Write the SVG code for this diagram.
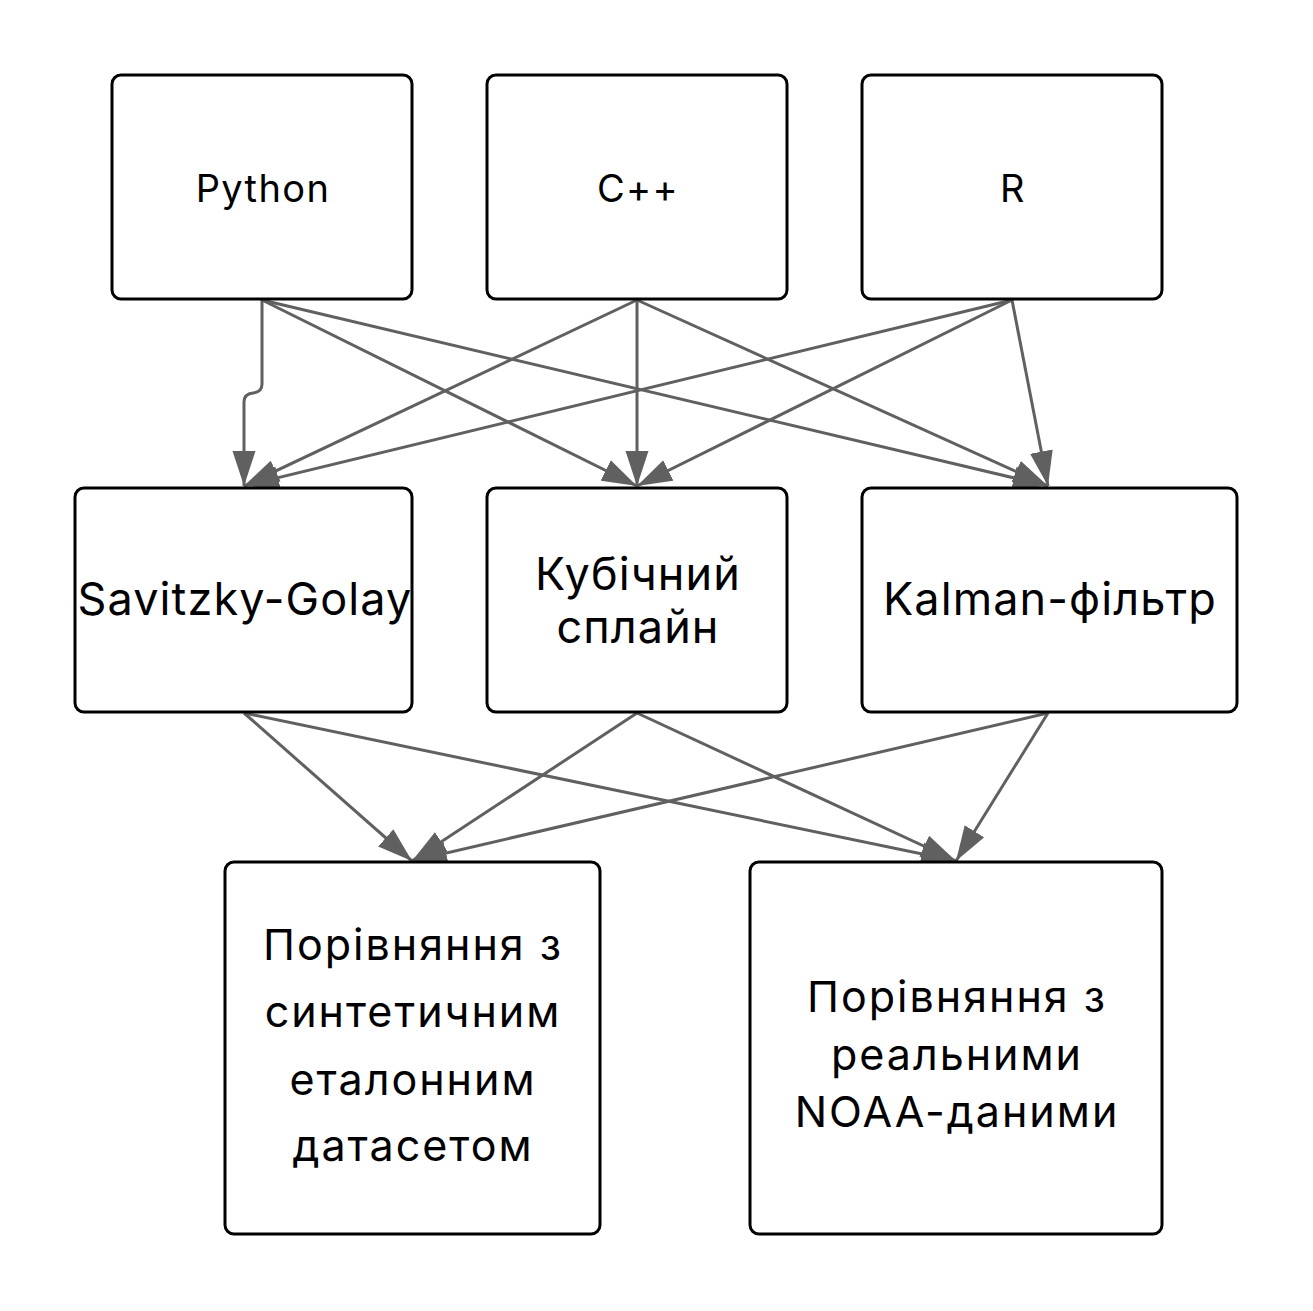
<svg xmlns="http://www.w3.org/2000/svg" width="1313" height="1311" viewBox="0 0 1313 1311">
<style>
.box{fill:#fff;stroke:#000;stroke-width:3}
.t{font-family:Inter,"Noto Sans",sans-serif;fill:#000;text-anchor:middle}
.s{font-size:38px;letter-spacing:1.4px}
.m{font-size:45px;letter-spacing:1.1px}
.l{font-size:43px;letter-spacing:2px}
.c{fill:none;stroke:#606060;stroke-width:3}
</style>
<defs>
<marker id="a" markerUnits="userSpaceOnUse" markerWidth="35" markerHeight="24" refX="35" refY="12" orient="auto" viewBox="0 0 35 24">
<path d="M0,0.5 L35,12 L0,23.5 z" fill="#606060"/>
</marker>
</defs>
<rect width="1313" height="1311" fill="#fff"/>
<g id="connectors">
<path class="c" marker-end="url(#a)" d="M262,300 V384 Q262,392 253,393 Q244,394 244,402 V486"/>
<path class="c" marker-end="url(#a)" d="M262,300 L637,486"/>
<path class="c" marker-end="url(#a)" d="M262,300 L1048,486"/>
<path class="c" marker-end="url(#a)" d="M637,300 L244,486"/>
<path class="c" marker-end="url(#a)" d="M637,300 L637,486"/>
<path class="c" marker-end="url(#a)" d="M637,300 L1048,486"/>
<path class="c" marker-end="url(#a)" d="M1012,300 L244,486"/>
<path class="c" marker-end="url(#a)" d="M1012,300 L637,486"/>
<path class="c" marker-end="url(#a)" d="M1012,300 L1048,486"/>
<path class="c" marker-end="url(#a)" d="M244,713 L412,861"/>
<path class="c" marker-end="url(#a)" d="M244,713 L956,861"/>
<path class="c" marker-end="url(#a)" d="M637,713 L412,861"/>
<path class="c" marker-end="url(#a)" d="M637,713 L956,861"/>
<path class="c" marker-end="url(#a)" d="M1048,713 L412,861"/>
<path class="c" marker-end="url(#a)" d="M1048,713 L956,861"/>
</g>
<g id="python"><rect class="box" x="112" y="75" width="300" height="224" rx="9"/><text class="t s" x="263" y="202">Python</text></g>
<g id="cpp"><rect class="box" x="487" y="75" width="300" height="224" rx="9"/><text class="t s" x="638" y="202">C++</text></g>
<g id="r"><rect class="box" x="862" y="75" width="300" height="224" rx="9"/><text class="t s" x="1013" y="202">R</text></g>
<g id="savitzky"><rect class="box" x="75" y="488" width="337" height="224" rx="9"/><text class="t m" x="245" y="615">Savitzky-Golay</text></g>
<g id="spline"><rect class="box" x="487" y="488" width="300" height="224" rx="9"/><text class="t m" x="638" y="590">Кубічний</text><text class="t m" x="638" y="643">сплайн</text></g>
<g id="kalman"><rect class="box" x="862" y="488" width="375" height="224" rx="9"/><text class="t m" x="1050" y="615">Kalman-фільтр</text></g>
<g id="synthetic"><rect class="box" x="225" y="862" width="375" height="372" rx="9"/><text class="t l" x="413" y="960">Порівняння з</text><text class="t l" x="413" y="1027">синтетичним</text><text class="t l" x="413" y="1095">еталонним</text><text class="t l" x="413" y="1161">датасетом</text></g>
<g id="noaa"><rect class="box" x="750" y="862" width="412" height="372" rx="9"/><text class="t l" x="957" y="1012">Порівняння з</text><text class="t l" x="957" y="1070">реальними</text><text class="t l" x="957" y="1127">NOAA-даними</text></g>
</svg>
